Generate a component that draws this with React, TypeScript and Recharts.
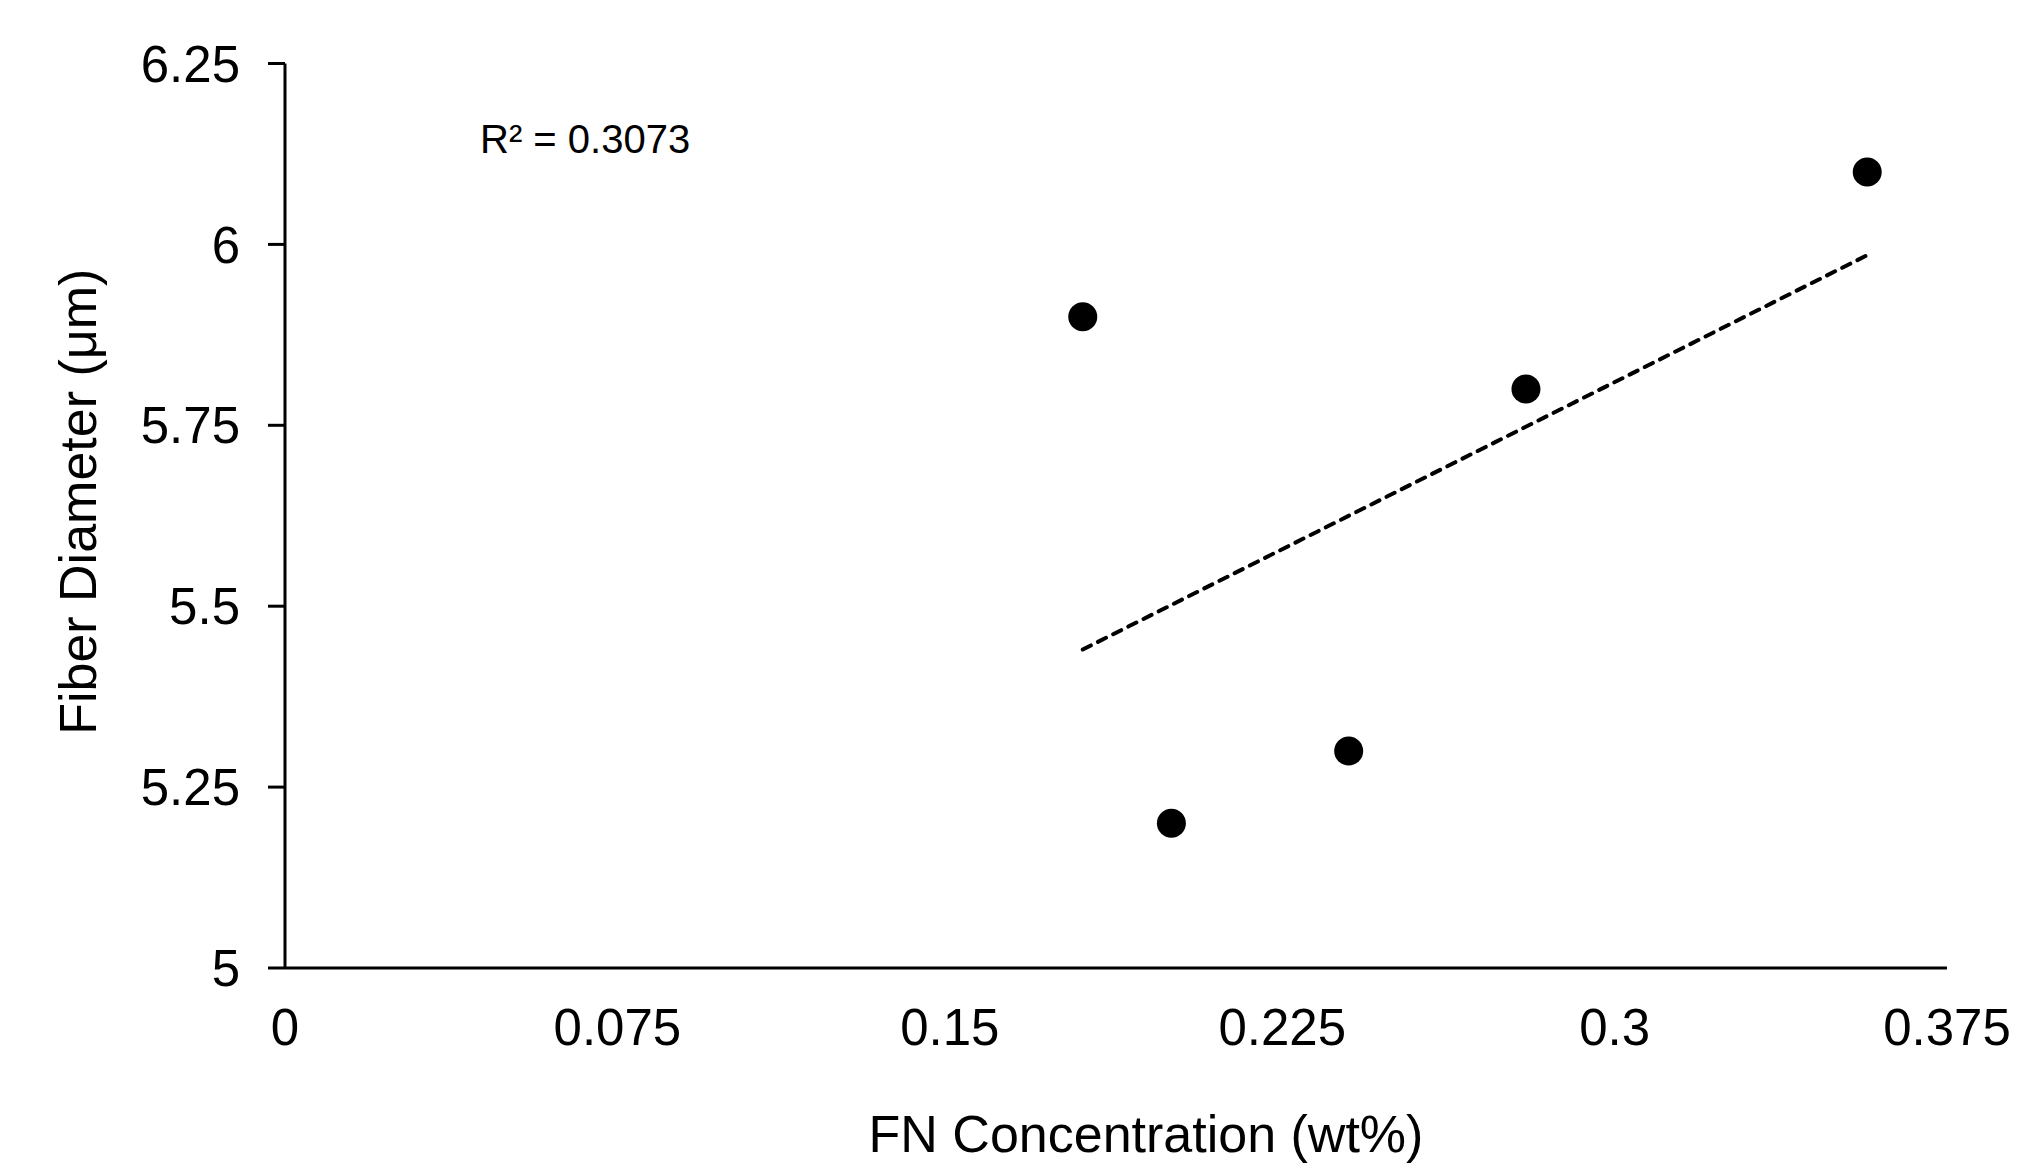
import React from 'react';
import { ScatterChart, Scatter, XAxis, YAxis, ReferenceLine, Label } from 'recharts';

const fnConcentration = [0.18, 0.2, 0.24, 0.28, 0.357];
const fiberDiameter = [5.9, 5.2, 5.3, 5.8, 6.1];
const xTicks = [0, 0.075, 0.15, 0.225, 0.3, 0.375];
const yTicks = [5, 5.25, 5.5, 5.75, 6, 6.25];
const xTitle = 'FN Concentration (wt%)';
const yTitle = 'Fiber Diameter (μm)';
const r2Label = 'R² = 0.3073';

const FONT = '"Liberation Sans", Arial, sans-serif';

const data = fnConcentration.map((x, i) => ({ x, y: fiberDiameter[i] }));

// least-squares linear trend line from the data
const n = fnConcentration.length;
const mx = fnConcentration.reduce((a, b) => a + b, 0) / n;
const my = fiberDiameter.reduce((a, b) => a + b, 0) / n;
let sxy = 0;
let sxx = 0;
for (let i = 0; i < n; i++) {
  sxy += (fnConcentration[i] - mx) * (fiberDiameter[i] - my);
  sxx += (fnConcentration[i] - mx) * (fnConcentration[i] - mx);
}
const slope = sxy / sxx;
const intercept = my - slope * mx;
const xMin = Math.min(...fnConcentration);
const xMax = Math.max(...fnConcentration);
const trendSegment = [
  { x: xMin, y: intercept + slope * xMin },
  { x: xMax, y: intercept + slope * xMax },
];

const Dot = (p: any) => <circle cx={p.cx} cy={p.cy} r={14.5} fill="#000" />;

export default function App() {
  return (
    <div style={{ position: 'absolute', left: 0, top: 0, background: '#fff' }}>
      <ScatterChart
        width={2021}
        height={1168}
        margin={{ top: 63.5, right: 74, bottom: 0, left: 85 }}
        style={{ fontFamily: FONT }}
      >
        <XAxis
          type="number"
          dataKey="x"
          domain={[0, 0.375]}
          ticks={xTicks}
          interval={0}
          allowDataOverflow
          height={200}
          axisLine={{ stroke: '#000', strokeWidth: 3 }}
          tickLine={false}
          tickSize={0}
          tickMargin={41}
          tick={{ fontSize: 51, fill: '#000', fontFamily: FONT }}
        >
          <Label
            content={(props: any) => {
              const vb = props.viewBox;
              return (
                <text
                  x={vb.x + vb.width / 2 + 30}
                  y={1152}
                  textAnchor="middle"
                  fontSize={52}
                  fill="#000"
                  fontFamily={FONT}
                >
                  {xTitle}
                </text>
              );
            }}
          />
        </XAxis>
        <YAxis
          type="number"
          dataKey="y"
          domain={[5, 6.25]}
          ticks={yTicks}
          interval={0}
          allowDataOverflow
          width={200}
          axisLine={{ stroke: '#000', strokeWidth: 3 }}
          tickLine={{ stroke: '#000', strokeWidth: 3 }}
          tickSize={17}
          tickMargin={28}
          tick={{ fontSize: 51, fill: '#000', fontFamily: FONT }}
        >
          <Label
            content={(props: any) => {
              const vb = props.viewBox;
              const cx = vb.x + 11;
              const cy = vb.y + vb.height / 2 - 14;
              return (
                <text
                  x={cx}
                  y={cy}
                  transform={`rotate(-90, ${cx}, ${cy})`}
                  textAnchor="middle"
                  fontSize={52}
                  fill="#000"
                  fontFamily={FONT}
                >
                  {yTitle}
                </text>
              );
            }}
          />
        </YAxis>
        <ReferenceLine
          segment={trendSegment}
          stroke="#000"
          strokeWidth={4}
          strokeDasharray="9 8"
          strokeLinecap="round"
          ifOverflow="visible"
        />
        <Scatter data={data} shape={Dot} isAnimationActive={false} />
        <text x={480} y={153} fontSize={40} fill="#000" fontFamily={FONT}>
          {r2Label}
        </text>
      </ScatterChart>
    </div>
  );
}
